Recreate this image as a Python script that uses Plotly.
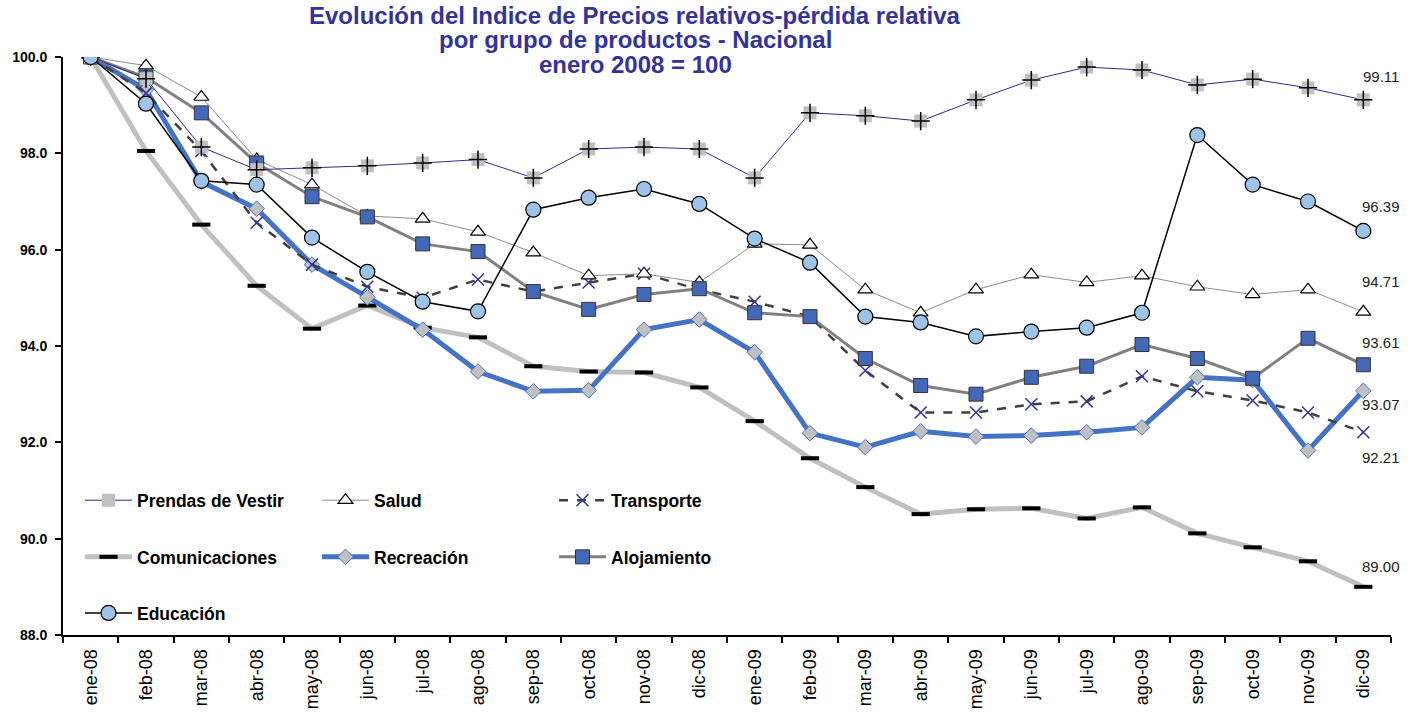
import plotly.graph_objects as go

months = ["ene-08", "feb-08", "mar-08", "abr-08", "may-08", "jun-08", "jul-08", "ago-08",
          "sep-08", "oct-08", "nov-08", "dic-08", "ene-09", "feb-09", "mar-09", "abr-09",
          "may-09", "jun-09", "jul-09", "ago-09", "sep-09", "oct-09", "nov-09", "dic-09"]

prendas = [100.0, 99.55, 98.13, 97.66, 97.70, 97.74, 97.80, 97.87, 97.49, 98.09, 98.13, 98.09,
           97.49, 98.84, 98.78, 98.67, 99.11, 99.52, 99.79, 99.73, 99.42, 99.54, 99.36, 99.11]
salud = [100.0, 99.82, 99.17, 97.87, 97.35, 96.70, 96.64, 96.37, 95.94, 95.46, 95.50, 95.32,
         96.12, 96.10, 95.17, 94.69, 95.17, 95.48, 95.32, 95.46, 95.23, 95.07, 95.17, 94.71]
transporte = [100.0, 99.25, 98.05, 96.56, 95.69, 95.23, 95.00, 95.38, 95.13, 95.32, 95.50, 95.17,
              94.92, 94.61, 93.49, 92.62, 92.62, 92.79, 92.85, 93.37, 93.06, 92.87, 92.62, 92.21]
comunicaciones = [100.0, 98.05, 96.52, 95.25, 94.36, 94.84, 94.38, 94.18, 93.58, 93.47, 93.45, 93.14,
                  92.44, 91.67, 91.07, 90.51, 90.61, 90.63, 90.42, 90.65, 90.11, 89.82, 89.53, 89.00]
recreacion = [100.0, 99.32, 97.41, 96.85, 95.69, 95.01, 94.34, 93.47, 93.06, 93.08, 94.34, 94.55,
              93.87, 92.19, 91.90, 92.23, 92.12, 92.14, 92.21, 92.31, 93.35, 93.29, 91.83, 93.07]
alojamiento = [100.0, 99.58, 98.84, 97.80, 97.10, 96.68, 96.12, 95.96, 95.13, 94.76, 95.07, 95.19,
               94.69, 94.61, 93.74, 93.18, 93.00, 93.35, 93.58, 94.03, 93.74, 93.33, 94.16, 93.61]
educacion = [100.0, 99.03, 97.43, 97.35, 96.25, 95.54, 94.92, 94.72, 96.83, 97.08, 97.26, 96.95,
             96.23, 95.73, 94.61, 94.49, 94.20, 94.30, 94.38, 94.69, 98.38, 97.35, 97.00, 96.39]

y_ticks = [88.0, 90.0, 92.0, 94.0, 96.0, 98.0, 100.0]

title_lines = ["Evolución del Indice de Precios relativos-pérdida relativa",
               "por grupo de productos - Nacional",
               "enero 2008 = 100"]

FONT = "Liberation Sans, Arial, sans-serif"

fig = go.Figure()

# drawing order (bottom to top)
fig.add_trace(go.Scatter(
    x=months, y=comunicaciones, name="Comunicaciones", mode="lines+markers",
    line=dict(color="#C0C0C0", width=5),
    marker=dict(symbol="line-ew", size=13, line=dict(color="black", width=4)),
    legend="legend2", legendrank=1))
fig.add_trace(go.Scatter(
    x=months, y=recreacion, name="Recreación", mode="lines+markers",
    line=dict(color="#4472C4", width=5),
    marker=dict(symbol="diamond", size=12, color="#C0C0C0", line=dict(color="#4472C4", width=1)),
    legend="legend2", legendrank=2))
fig.add_trace(go.Scatter(
    x=months, y=transporte, name="Transporte", mode="lines+markers",
    line=dict(color="#404040", width=2.5, dash="dash"),
    marker=dict(symbol="x-thin", size=12, line=dict(color="#333399", width=1.5)),
    legend="legend", legendrank=3))
fig.add_trace(go.Scatter(
    x=months, y=salud, name="Salud", mode="lines+markers",
    line=dict(color="#8C8C8C", width=1),
    marker=dict(symbol="triangle-up", size=13, color="white", line=dict(color="black", width=1.2)),
    legend="legend", legendrank=2))
fig.add_trace(go.Scatter(
    x=months, y=alojamiento, name="Alojamiento", mode="lines+markers",
    line=dict(color="#808080", width=3),
    marker=dict(symbol="square", size=14, color="#4468B8", line=dict(color="#333333", width=1)),
    legend="legend2", legendrank=3))
fig.add_trace(go.Scatter(
    x=months, y=prendas, name="Prendas de Vestir", mode="lines+markers",
    line=dict(color="#2B2B8C", width=1),
    marker=dict(symbol="square", size=13, color="#C0C0C0"),
    legend="legend", legendrank=1))
fig.add_trace(go.Scatter(
    x=months, y=prendas, mode="markers", showlegend=False, hoverinfo="skip",
    marker=dict(symbol="cross-thin", size=13, line=dict(color="black", width=1.5))))
fig.add_trace(go.Scatter(
    x=months, y=educacion, name="Educación", mode="lines+markers",
    line=dict(color="black", width=1.5),
    marker=dict(symbol="circle", size=15, color="#9DC3E6", line=dict(color="black", width=1.2)),
    legend="legend3", legendrank=1))

# end labels
end_series = [prendas, educacion, salud, alojamiento, recreacion, transporte, comunicaciones]
end_shift = [23, 24, 30, 22, -14, -25, 20]
for s, sh in zip(end_series, end_shift):
    fig.add_annotation(x=months[-1], y=s[-1], text=f"{s[-1]:.2f}", showarrow=False,
                       xref="x", yref="y", xshift=18, yshift=sh,
                       font=dict(family=FONT, size=15, color="#222222"))

# title, three lines
title_y = [1.0725, 1.031, 0.9875]
for t, ty in zip(title_lines, title_y):
    fig.add_annotation(text=t, xref="paper", yref="paper", x=0.431, y=ty,
                       xanchor="center", yanchor="middle", showarrow=False,
                       font=dict(family=FONT, size=24, color="#333399", weight="bold"))

legend_common = dict(orientation="h", xanchor="left", yanchor="middle", x=0.0128,
                     entrywidth=175, entrywidthmode="pixels", bgcolor="rgba(0,0,0,0)",
                     font=dict(family=FONT, size=17.5, color="black", weight="bold"),
                     itemwidth=47, tracegroupgap=0)

fig.update_layout(
    width=1412, height=721,
    margin=dict(l=60, r=21, t=57, b=85),
    paper_bgcolor="white", plot_bgcolor="white",
    legend=dict(y=0.233, **legend_common),
    legend2=dict(y=0.135, **legend_common),
    legend3=dict(y=0.038, **legend_common),
    xaxis=dict(type="category", categoryorder="array", categoryarray=months,
               tickangle=-90, tickson="boundaries", ticks="outside", ticklen=6,
               tickcolor="black", tickwidth=1.5, ticklabelstandoff=5,
               showline=True, linecolor="black", linewidth=2, showgrid=False,
               tickfont=dict(family=FONT, size=18, color="black"),
               range=[-0.5, len(months) - 0.5]),
    yaxis=dict(range=[88, 100], tickvals=y_ticks, tickformat=".1f", ticks="outside", ticklen=6,
               tickcolor="black", tickwidth=1.5, ticklabelstandoff=5,
               showline=True, linecolor="black", linewidth=2, showgrid=False, zeroline=False,
               tickfont=dict(family=FONT, size=14, color="black", weight="bold")),
    showlegend=True,
)

# remove the default page margin so the figure sits at the window's corner
fig.write_html("out.html", config={"displayModeBar": False},
               post_script="document.body.style.margin='0';document.body.style.overflow='hidden';")
